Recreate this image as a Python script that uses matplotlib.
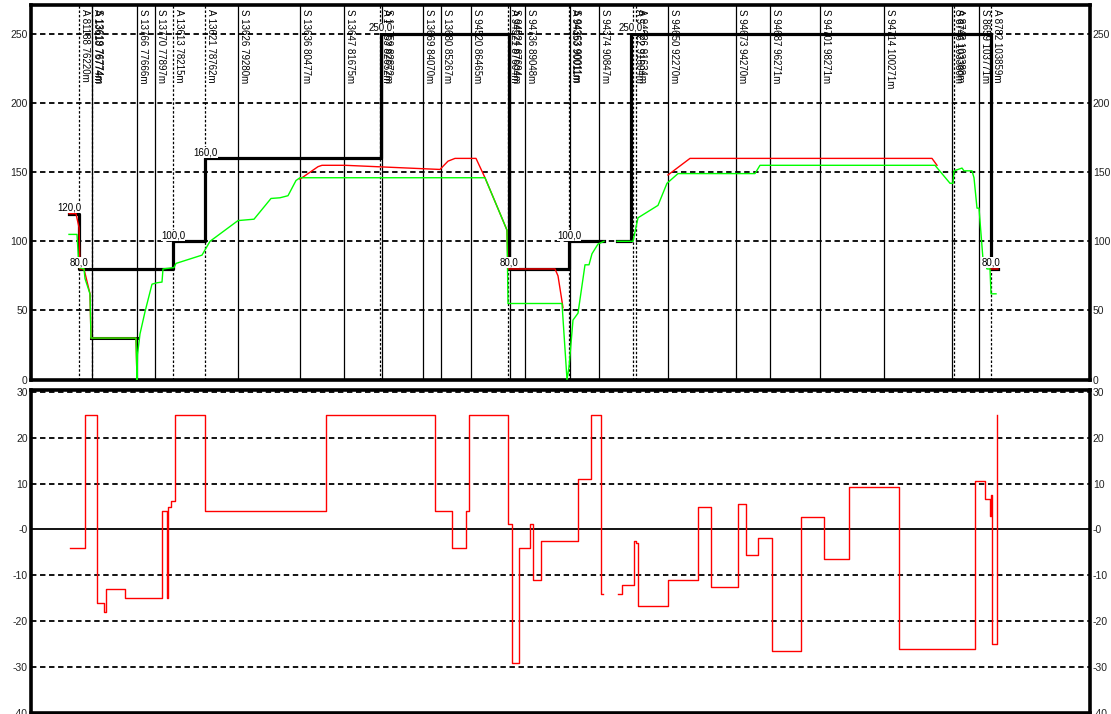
import numpy as np
import matplotlib.pyplot as plt
from matplotlib.transforms import blended_transform_factory

plt.rcParams['font.family'] = ['Liberation Sans', 'DejaVu Sans']
plt.rcParams['font.size'] = 7

# -------------------------------------------------
# Route markers along the run (time in s)
# S = signal (solid line), A = announcement (dotted line)
# -------------------------------------------------
marker_t = [79, 91.5, 92, 137, 155, 173, 205, 238, 300, 344, 380, 382, 423, 441, 471,
            508, 510, 525, 569, 570, 599, 633, 636, 668, 736, 770, 820, 884,
            952, 954, 979, 991]
marker_kind = ["A", "A", "S", "S", "S", "A", "A", "S", "S", "S", "A", "S", "S", "S", "S",
               "A", "S", "S", "A", "S", "S", "A", "A", "S", "S", "S", "S", "S",
               "S", "A", "S", "A"]
marker_text = ["A 81188 76220m", "A 13618 76774m", "S 13619 76774m", "S 13766 77666m",
               "S 13770 77897m", "A 13613 78215m", "A 13621 78762m", "S 13626 79280m",
               "S 13636 80477m", "S 13647 81675m", "A 13653 82652m", "S 13659 82872m",
               "S 13669 84070m", "S 13680 85267m", "S 94520 86465m", "A 94521 87604m",
               "S 94524 87694m", "S 94736 89048m", "A 94353 90011m", "S 94363 90011m",
               "S 94374 90847m", "A 94622 91604m", "A 94626 91634m", "S 94650 92270m",
               "S 94673 94270m", "S 94687 96271m", "S 94701 98271m", "S 94714 100271m",
               "S 8746 103380m", "A 8743 103388m", "S 8659 103771m", "A 8782 103859m"]

# Speed limit (km/h), change points
limit_t = [69, 79, 173, 205, 381, 509, 569, 604, 617, 631, 991, 998]
limit_v = [120, 80, 100, 160, 250, 80, 100, np.nan, 100, 250, 80, 80]

# Temporary restriction
restr_t = [91, 137]
restr_v = [30, 30]

# Target speed (km/h)
target_t = [69, 76, 79, 80, 84, 90, 91, 136, 137, np.nan,
            300, 318, 322, 345, 440, 448, 455, 476, 485, 503, 507, 508, 555, 558, 563, np.nan,
            668, 690, 932, 937, np.nan, 990, 998]
target_v = [120, 120, 110, 80, 80, 62, 30, 30, 0, np.nan,
            145, 154, 155, 155, 152, 158, 160, 160, 146, 115, 108, 80, 80, 75, 52, np.nan,
            148, 160, 160, 155, np.nan, 80, 80]

# Actual speed (km/h)
speed_t = [69, 77, 79, 84, 85, 90, 91, 136, 137, 137.5, 140, 145, 152, 157, 162, 163, 174, 176,
           202, 210, 238, 254, 271, 280, 288, 296, 300, 485, 503, 507, 508, 562, 567, 569, 573,
           578, 585, 589, 592, 598, 604, np.nan, 617, 633, 638, 658, 667, 678, 755, 760, 935,
           950, 953, 954, 962, 964, 972, 974, 977, 979, 983, 987, 990, 991, 996]
speed_v = [105, 105, 81, 80, 73, 62, 30, 30, 0, 18, 33, 49, 69, 70, 70.5, 80, 81, 84,
           90, 100, 115, 116, 131, 131.5, 133, 144, 146, 146, 115, 108, 55, 55, 0, 9, 43,
           48, 83, 83, 91, 98, 100, np.nan, 100, 100, 117, 126, 142, 149, 149, 155, 155,
           142, 142, 151, 153, 151, 151, 146, 124, 124, 87, 80, 80, 62, 62]

# Deviation (km/h), change points
dev_t = [70, 85, 97, 104, 105.5, 125, 162, 166.8, 167.6, 171, 175, 205, 326, 435, 452, 466,
         469, 508, 512, 519, 530, 533, 541, 578, 591, 601, 603, 618, 622, 634, 636, 638, 668,
         698, 711, 738, 746, 758, 772, 801, 824, 849, 899, 975, 985, 990, 990.8, 991.6, 997]
dev_v = [-4, 25, -16, -18, -13, -15, 4, -15, 5, 6.3, 25, 4, 25, 4, -4, 4,
         25, 1.2, -29, -4, 1.2, -11, -2.5, 11, 25, -14, np.nan, -14, -12, -2.5, -3, -16.6, -11,
         5, -12.5, 5.5, -5.5, -1.8, -26.5, 2.7, -6.4, 9.3, -26, 10.6, 6.6, 3, 7.6, -25, 25]

top_ticks = [0, 50, 100, 150, 200, 250]
bottom_ticks = [30, 20, 10, 0, -10, -20, -30, -40]
bottom_labels = ["30", "20", "10", "-0", "-10", "-20", "-30", "-40"]

# -------------------------------------------------
# Layout
# -------------------------------------------------
W, H = 1111, 714
fig = plt.figure(figsize=(W / 100, H / 100), dpi=100)
ax1 = fig.add_axes([30.5 / W, 1 - 379.5 / H, 1059.5 / W, 374.5 / H])
ax2 = fig.add_axes([30.5 / W, 1 - 713 / H, 1059.5 / W, 323.5 / H])

for ax in (ax1, ax2):
    ax.set_xlim(30.5, 1090)
    ax.set_xticks([])
    for s in ax.spines.values():
        s.set_linewidth(2.6)
        s.set_color("black")
    ax.tick_params(axis="y", length=0, pad=2, labelsize=7.5, labelcolor="#222222",
                   left=False, right=False, labelleft=True, labelright=True)

grid_style = dict(color="black", lw=1.3, ls=(0, (3, 2)), zorder=1)

# -------------------------------------------------
# Top panel: speeds
# -------------------------------------------------
ax1.set_ylim(0, 271)
ax1.set_yticks(top_ticks, [str(v) for v in top_ticks])
for v in top_ticks[1:]:
    ax1.axhline(v, **grid_style)

trans = blended_transform_factory(ax1.transData, ax1.transAxes)
for t, kind, txt in zip(marker_t, marker_kind, marker_text):
    ls = "-" if kind == "S" else (0, (2, 1.5))
    ax1.axvline(t, color="black", lw=0.9, ls=ls, zorder=2)
    ax1.text(t + 0.8, 0.99, txt, rotation=270, ha="left", va="top",
             fontsize=7, color="black", transform=trans, zorder=2)

ax1.plot(restr_t, restr_v, color="black", lw=2.2, zorder=3)
ax1.plot(limit_t, limit_v, color="black", lw=2.3, drawstyle="steps-post", zorder=3)
ax1.plot(target_t, target_v, color="#ff0000", lw=1.0, zorder=4)
ax1.plot(speed_t, speed_v, color="#00ff00", lw=1.0, zorder=5)

# Labels at each new speed limit
prev = None
for t, v in zip(limit_t, limit_v):
    if not np.isnan(v) and v != prev:
        ax1.annotate(f"{v:.1f}".replace(".", ","), (t, v), xytext=(0, 0.8),
                     textcoords="offset points", ha="center", va="bottom", fontsize=7,
                     bbox=dict(fc="white", ec="none", pad=0.3), zorder=6)
    if not np.isnan(v):
        prev = v

# -------------------------------------------------
# Bottom panel: deviation
# -------------------------------------------------
ax2.set_ylim(-40, 30.5)
ax2.set_yticks(bottom_ticks, bottom_labels)
for v in bottom_ticks:
    if v == 0:
        ax2.axhline(0, color="black", lw=1.3, zorder=1)
    else:
        ax2.axhline(v, **grid_style)
ax2.plot(dev_t, dev_v, color="#ff0000", lw=1.0, drawstyle="steps-post", zorder=4)

fig.savefig("out.png", dpi=100, facecolor="white")
